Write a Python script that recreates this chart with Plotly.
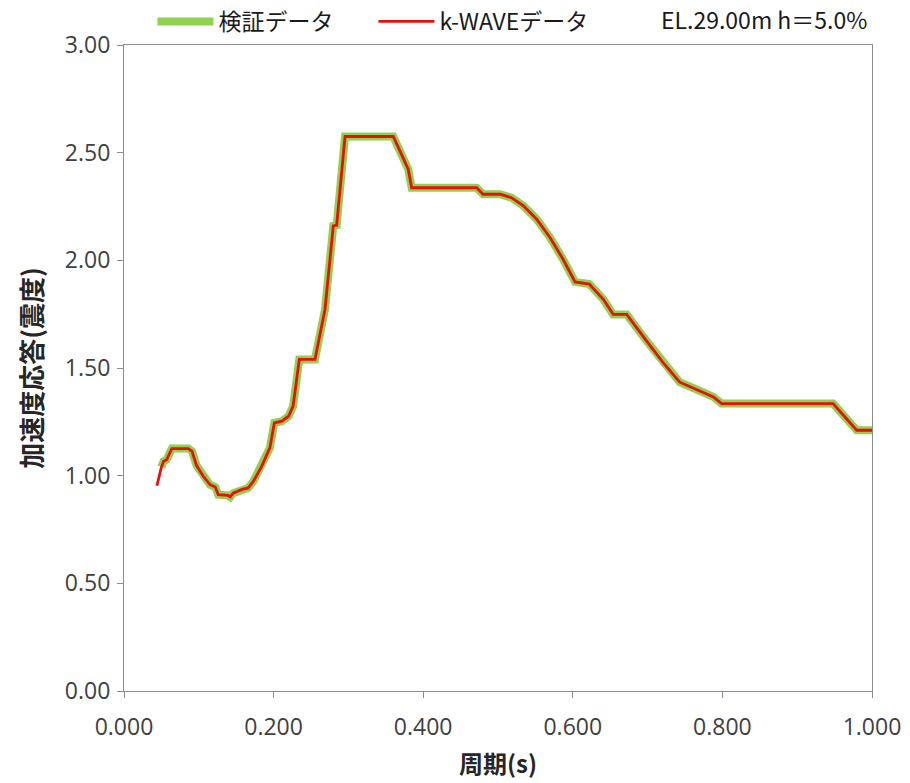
import plotly.graph_objects as go

# Period (s) and spectral acceleration response (seismic coefficient)
period_kwave = [0.044, 0.050, 0.053, 0.057, 0.064, 0.086, 0.091, 0.097, 0.106, 0.115,
                0.122, 0.126, 0.139, 0.142, 0.146, 0.157, 0.166, 0.173, 0.184, 0.195,
                0.201, 0.211, 0.220, 0.226, 0.2344, 0.2553, 0.2687, 0.2798, 0.2843, 0.2955,
                0.360, 0.380, 0.3846, 0.4715, 0.480, 0.5027, 0.518, 0.534, 0.5517, 0.5695,
                0.587, 0.603, 0.622, 0.6408, 0.654, 0.672, 0.6988, 0.721, 0.743, 0.7656,
                0.788, 0.799, 0.948, 0.9795, 1.000]
accel_kwave = [0.953, 1.040, 1.067, 1.074, 1.126, 1.126, 1.113, 1.047, 0.997, 0.958,
               0.947, 0.912, 0.908, 0.901, 0.919, 0.935, 0.943, 0.974, 1.043, 1.129,
               1.245, 1.253, 1.276, 1.322, 1.540, 1.540, 1.772, 2.160, 2.163, 2.575,
               2.575, 2.423, 2.337, 2.337, 2.307, 2.307, 2.291, 2.253, 2.191, 2.106,
               2.005, 1.900, 1.890, 1.819, 1.749, 1.749, 1.625, 1.524, 1.434, 1.400,
               1.366, 1.335, 1.335, 1.211, 1.211]

# Verification data follows the same spectrum, starting from the second period
period_verif = period_kwave[1:]
accel_verif = accel_kwave[1:]

x_ticks = [0.0, 0.2, 0.4, 0.6, 0.8, 1.0]
y_ticks = [0.0, 0.5, 1.0, 1.5, 2.0, 2.5, 3.0]

name_verif = "検証データ"
name_kwave = "k-WAVEデータ"
case_label = "EL.29.00m h＝5.0%"

fig = go.Figure()
fig.add_trace(go.Scatter(x=period_verif, y=accel_verif, mode="lines", name=name_verif,
                         line=dict(color="#92d050", width=8)))
fig.add_trace(go.Scatter(x=period_kwave, y=accel_kwave, mode="lines", name=name_kwave,
                         line=dict(color="#e8100a", width=2.8)))

axis_common = dict(showgrid=False, zeroline=False, showline=True, linecolor="#8c8c8c",
                   linewidth=1.2, mirror=True, ticks="outside", ticklen=6,
                   tickcolor="#8c8c8c",
                   tickfont=dict(family="Open Sans, Noto Sans", size=23, color="#404040"))

fig.update_xaxes(range=[0, 1], tickvals=x_ticks, tickformat=".3f", ticklabelstandoff=9,
                 title=dict(text="<b>周期(s)</b>", standoff=15,
                            font=dict(family="Noto Sans CJK JP", size=24, color="#262626")),
                 **axis_common)
fig.update_yaxes(range=[0, 3], tickvals=y_ticks, tickformat=".2f", ticklabelstandoff=2,
                 title=dict(text="<b>加速度応答(震度)</b>", standoff=14,
                            font=dict(family="Noto Sans CJK JP", size=26, color="#262626")),
                 **axis_common)

# Case label in the header row, right-aligned with the plot frame
fig.add_annotation(text=case_label, xref="paper", yref="paper", x=0.996, y=1.0,
                   xanchor="right", yanchor="bottom", yshift=7, showarrow=False,
                   font=dict(family="Noto Sans CJK JP", size=23, color="#1a1a1a"))

fig.update_layout(
    width=910, height=783,
    margin=dict(l=124, r=38, t=45, b=92, autoexpand=False),
    plot_bgcolor="white", paper_bgcolor="white",
    legend=dict(orientation="h", x=0.038, xref="paper", y=1.0, yref="container",
                xanchor="left", yanchor="top",
                itemwidth=56, entrywidth=150, entrywidthmode="pixels",
                font=dict(family="Noto Sans CJK JP", size=23, color="#1a1a1a"),
                bgcolor="rgba(0,0,0,0)"),
    showlegend=True,
)

fig.write_html("out.html")
